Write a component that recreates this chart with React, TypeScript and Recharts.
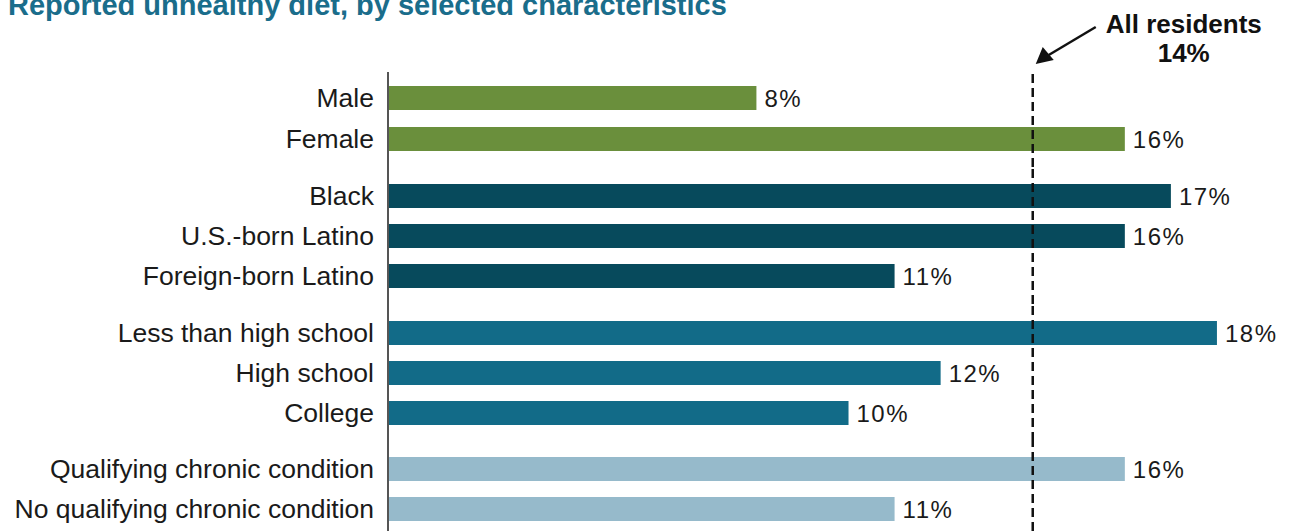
import React from "react";
import { BarChart, Bar, XAxis, YAxis, ReferenceLine, LabelList } from "recharts";

const genderCats = ["Male", "Female"];
const genderVals = [8, 16];
const raceCats = ["Black", "U.S.-born Latino", "Foreign-born Latino"];
const raceVals = [17, 16, 11];
const eduCats = ["Less than high school", "High school", "College"];
const eduVals = [18, 12, 10];
const chronicCats = ["Qualifying chronic condition", "No qualifying chronic condition"];
const chronicVals = [16, 11];
const allResidents = 14;
const xDomain = [0, 19];

const title = "Reported unhealthy diet, by selected characteristics";
const annotLine1 = "All residents";
const annotLine2 = `${allResidents}%`;

const COLORS = ["#6a8f3c", "#074a5c", "#126b88", "#96bacb"];
const FONT = "'Liberation Sans', Arial, sans-serif";

const W = 1291;
const AXIS_X = 388;

const build = (cats: string[], vals: number[]) => cats.map((c, i) => ({ name: c, value: vals[i] }));

const Annotation = (props: any) => {
  const vb = props.viewBox || {};
  const x = vb.x;
  const y = vb.y;
  return (
    <g>
      <line x1={x + 63} y1={y - 45} x2={x + 16} y2={y - 17} stroke="#111" strokeWidth={2.5} />
      <polygon points={`${x + 3},${y - 8} ${x + 10},${y - 25} ${x + 21},${y - 12}`} fill="#111" />
      <text x={x + 151} y={y - 39} textAnchor="middle" fontFamily={FONT} fontWeight="bold" fontSize={26} fill="#111">
        {annotLine1}
      </text>
      <text x={x + 151} y={y - 10} textAnchor="middle" fontFamily={FONT} fontWeight="bold" fontSize={26} fill="#111">
        {annotLine2}
      </text>
    </g>
  );
};

type GroupProps = {
  cats: string[];
  vals: number[];
  color: string;
  height: number;
  marginTop: number;
  padTop: number;
  padBottom: number;
  annotate?: boolean;
};

const Group = ({ cats, vals, color, height, marginTop, padTop, padBottom, annotate }: GroupProps) => (
  <BarChart
    width={W}
    height={height}
    data={build(cats, vals)}
    layout="vertical"
    margin={{ top: marginTop, right: 28, bottom: 0, left: 0 }}
    barSize={24}
    style={{ display: "block", overflow: "visible" }}
  >
    <XAxis type="number" domain={xDomain} hide />
    <YAxis
      type="category"
      dataKey="name"
      width={AXIS_X}
      padding={{ top: padTop, bottom: padBottom }}
      axisLine={{ stroke: "#555", strokeWidth: 2 }}
      tickLine={false}
      tickMargin={8}
      interval={0}
      tick={{ fill: "#1a1a1a", fontSize: 26.5, fontFamily: FONT }}
    />
    <Bar dataKey="value" fill={color} isAnimationActive={false}>
      <LabelList
        dataKey="value"
        position="right"
        offset={8}
        formatter={(v: any) => `${v}%`}
        style={{ fill: "#1a1a1a", fontSize: 24, fontFamily: FONT, letterSpacing: 1.5 }}
      />
    </Bar>
    <ReferenceLine
      x={allResidents}
      stroke="#111"
      strokeWidth={2.5}
      strokeDasharray="9 5"
      label={annotate ? <Annotation /> : undefined}
    />
  </BarChart>
);

export default function App() {
  return (
    <div style={{ position: "fixed", left: 0, top: 0, width: W, height: 531, background: "#fff", overflow: "hidden" }}>
      <svg width={W} height={30} style={{ position: "absolute", left: 0, top: 0 }}>
        <text x={8} y={15} fontFamily={FONT} fontWeight="bold" fontSize={29} fill="#1a6d8b">
          {title}
        </text>
      </svg>
      <div style={{ position: "absolute", left: 0, top: 0 }}>
        <Group cats={genderCats} vals={genderVals} color={COLORS[0]} height={167} marginTop={72} padTop={5} padBottom={8} annotate />
        <Group cats={raceCats} vals={raceVals} color={COLORS[1]} height={137} marginTop={0} padTop={9} padBottom={8} />
        <Group cats={eduCats} vals={eduVals} color={COLORS[2]} height={137} marginTop={0} padTop={9} padBottom={8} />
        <Group cats={chronicCats} vals={chronicVals} color={COLORS[3]} height={90} marginTop={0} padTop={8} padBottom={2} />
      </div>
    </div>
  );
}
